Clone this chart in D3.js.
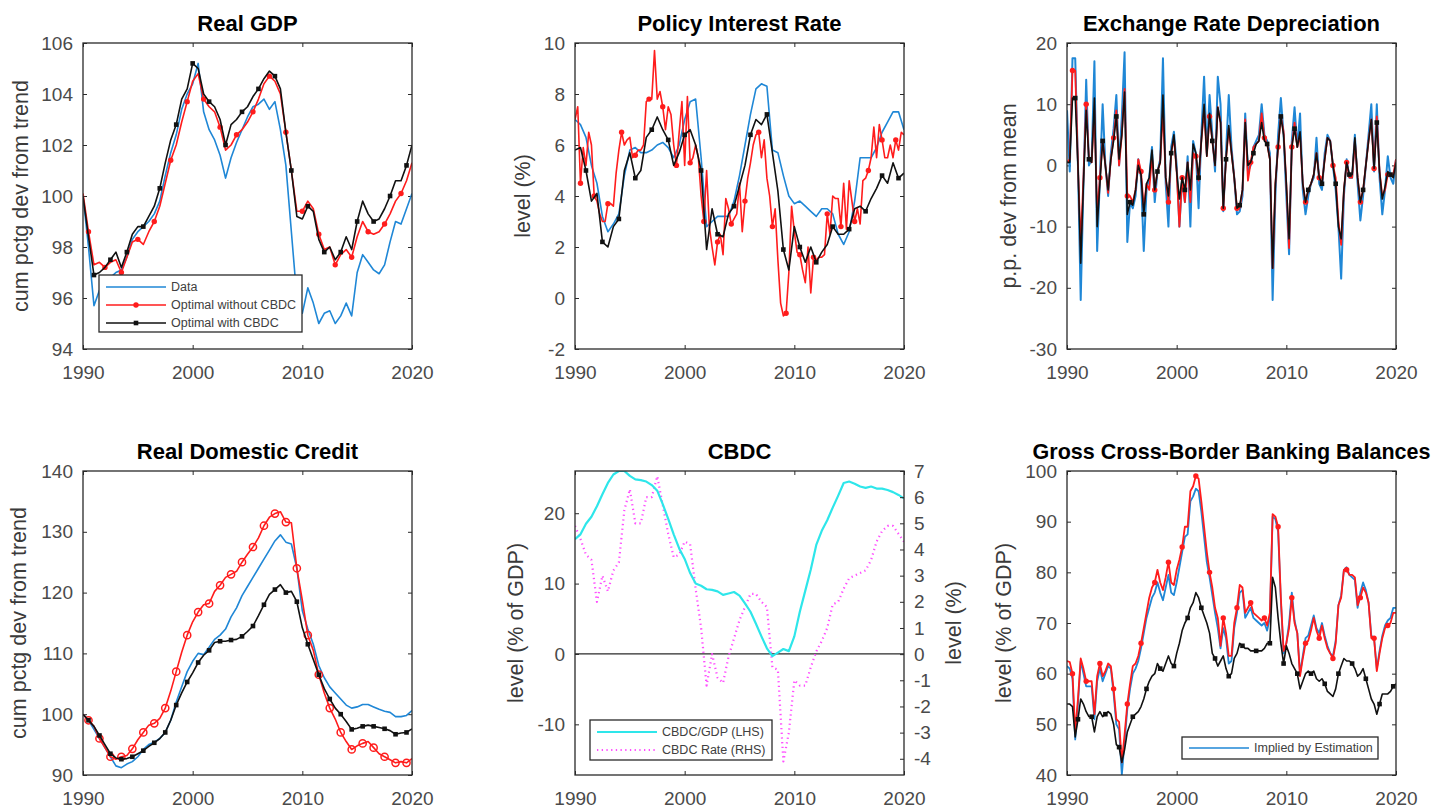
<!DOCTYPE html>
<html>
<head>
<meta charset="utf-8">
<script src="https://cdn.jsdelivr.net/npm/d3@7"></script>
<style>
  body { margin: 0; background: #fff; }
  svg { display: block; font-family: "Liberation Sans", Arial, sans-serif; }
</style>
</head>
<body>
<svg id="chart" width="1454" height="810"></svg>
<script>

// ---- time index: semi-annual (61 obs) and quarterly (121 obs), 1990 - 2020
const halfYears = d3.range(61).map(i => 1990 + i / 2);
const quarters = d3.range(121).map(i => 1990 + i / 4);
const yearTicks = [1990, 2000, 2010, 2020];

// ---- Real GDP (semi-annual)
const gdpData = [
  100.0, 98.0, 95.7, 96.3, 96.5, 96.8, 97.0, 97.1, 97.6, 98.3,
  98.6, 98.8, 99.0, 99.3, 99.8, 100.8, 101.7, 102.4, 103.4, 104.0,
  104.4, 105.2, 103.3, 102.6, 102.2, 101.6, 100.7, 101.5, 102.1, 102.6,
  103.1, 103.5, 103.6, 103.8, 103.4, 103.7, 102.6, 101.2, 98.6, 96.0,
  95.4, 96.4, 95.8, 95.0, 95.4, 95.5, 95.0, 95.3, 95.8, 95.3,
  97.0, 97.7, 97.4, 97.1, 96.95, 97.3, 98.2, 99.0, 98.9, 99.5,
  100.1
];
const gdpNoCbdc = [
  100.1, 98.6, 97.3, 97.4, 97.2, 97.4, 97.5, 97.0, 97.6, 98.2,
  98.3, 98.1, 98.6, 99.0, 99.6, 100.5, 101.4, 102.0, 102.9, 103.7,
  104.5, 104.8, 103.8, 103.5, 103.3, 102.7, 101.8, 102.0, 102.4, 102.6,
  102.9, 103.3, 103.8, 104.4, 104.7, 104.5, 104.0, 102.5, 101.0, 99.4,
  99.4, 99.8, 99.5, 98.5, 97.9, 98.0, 97.3, 97.7, 97.9, 97.6,
  98.4, 99.0, 98.6, 98.5, 98.6, 98.9, 99.3, 99.8, 100.1, 100.6,
  101.3
];
const gdpCbdc = [
  100.0, 98.4, 96.9, 97.0, 97.2, 97.5, 97.8, 97.2, 97.8, 98.5,
  98.8, 98.8, 99.2, 99.6, 100.3, 101.3, 102.2, 102.8, 103.8, 104.2,
  105.2, 105.0, 104.0, 103.7, 103.5, 103.0, 102.0, 102.8, 103.0, 103.3,
  103.5, 103.9, 104.2, 104.6, 104.9, 104.7, 104.2, 102.5, 101.0, 99.2,
  99.1, 99.6, 99.4, 98.3, 97.8, 98.0, 97.5, 97.8, 98.4, 97.9,
  99.0, 99.8, 99.3, 99.0, 99.1, 99.5, 100.0, 100.6, 100.6, 101.2,
  102.0
];

// ---- Policy interest rate (data, with-CBDC semi-annual; without-CBDC quarterly)
const rateData = [
  7.0, 6.8, 6.3, 5.2, 4.5, 3.2, 2.6, 2.9, 3.3, 4.8,
  5.8, 5.9, 5.7, 5.7, 5.8, 6.0, 6.1, 5.9, 5.5, 6.0,
  7.0, 7.7, 7.8, 5.5, 2.8, 3.0, 3.2, 3.2, 3.2, 3.8,
  4.8, 6.0, 7.2, 8.2, 8.4, 8.3, 5.8, 5.7, 4.8, 4.0,
  3.7, 3.8, 3.6, 3.4, 3.2, 3.5, 3.5, 3.3, 2.5, 2.1,
  2.6, 3.8, 5.5, 5.5, 5.5, 5.9, 6.5, 6.9, 7.3, 7.3,
  6.6
];
const rateNoCbdc = [
  7.0, 7.5, 4.5, 5.9, 5.2, 6.5, 6.0, 4.0, 3.8, 3.3, 3.0, 3.0, 3.7, 3.7, 3.6, 4.9, 5.8, 6.5, 6.0, 6.2,
  6.3, 5.5, 5.6, 5.8, 5.8, 6.0, 7.7, 7.8, 7.8, 9.7, 7.8, 8.1, 7.5, 6.6, 7.5, 7.2, 6.0, 5.2, 6.5, 7.7,
  5.2, 7.9, 5.3, 5.5, 6.0, 5.5, 4.0, 3.0, 5.0, 2.8, 2.0, 1.3, 2.2, 2.5, 1.7, 3.9, 3.5, 2.9, 3.1, 3.3,
  4.5, 2.6, 3.8, 4.7, 5.3, 6.0, 6.4, 6.5, 5.5, 6.2, 4.7, 4.0, 2.8, 3.5, 1.5, -0.2, -0.7, -0.6, 1.0, 3.6,
  2.6, 1.8, 1.7, 1.1, 0.6, 2.0, 0.2, 1.6, 1.5, 1.6, 1.6, 1.7, 3.3, 2.5, 4.0, 3.9, 3.9, 2.8, 4.5, 2.7,
  4.6, 3.8, 3.0, 3.5, 2.9, 4.6, 4.7, 5.0, 5.5, 6.7, 5.5, 6.8, 6.2, 5.5, 5.5, 6.0, 5.5, 6.2, 5.8, 6.5,
  6.4
];
const rateCbdc = [
  5.8, 5.9, 5.0, 3.8, 4.1, 2.2, 2.0, 2.8, 3.1, 5.0,
  5.7, 4.7, 5.0, 6.3, 6.6, 7.1, 6.6, 6.2, 5.2, 5.7,
  6.4, 6.6, 6.0, 5.0, 1.9, 3.5, 2.5, 2.4, 3.3, 3.6,
  4.4, 5.2, 6.4, 7.0, 6.8, 7.2, 5.7, 4.2, 1.9, 1.1,
  2.8, 2.0, 1.4, 2.0, 1.4, 1.8, 2.1, 2.8, 2.5, 2.5,
  2.7, 3.5, 3.6, 3.4, 3.9, 4.3, 4.8, 4.5, 5.3, 4.7,
  4.9
];

// ---- Exchange rate depreciation (quarterly)
const fxData = [
  9, -1, 17.5, 17.5, 0, -22, -3, 14, 0, 1, 17, -14, -2, 10, 0, -5, 2, 6, 11.5, 0,
  8, 18.5, -12.5, -6, -7, -5, 1, -2, -14, -4, -2, 3, -6, -1, 1, 17.5, -3, -10, 3, 5.5,
  0, -10, -2, -6, 1.5, -10, 4, 2, -7, 5, 14.5, 2, 11.5, 5, -1, 14.5, 10, -7.5, 2, 11.5,
  3, -2, -8, -7.5, -5, 8.5, -1, 0, 3, 4, 5, 10, 5, 4, 2, -22, -5, 5, 11, 5,
  -5, -14.5, 4, 9.5, 3, 8.5, -4, -8, -5, -3, -2, 4.5, -3, -4, 2, 5, 4, 0, -4, -10,
  -18.5, -5, 1, -2, -2, 5, -3, -9, -5, 0, 5, 10, -1, 10, -2, -8, -4, 1.5, -2, -3,
  1
];
const fxNoCbdc = [
  0.5, 1, 15.5, 15.5, 0, -13, -2, 10, 1, 0.5, 9, -8, -2, 4, 0, -4.5, 1, 4.5, 9, 0,
  5, 12.5, -5, -5, -6, -4, 1, -1, -7, -3, -4, 1.5, -4, -1, 0.5, 9, -2, -6, 2, 4.5,
  -1, -10, -2, -6, 0.5, -6, 2, 1.5, -2.5, 4, 9, 1.5, 8, 4, 0, 9.5, 7, -7, 1, 6,
  2, -2, -7, -7, -4, 7.5, -2.5, 0.5, 3, 3.5, 4, 8.5, 4.5, 3.5, 1, -16.8, -3, 3, 8, 5.5,
  -3, -13.5, 3, 7, 3, 5, -3, -6, -4, -3, -1.5, 2, -2, -3, 1, 4.5, 4, 0, -2, -9,
  -13, -4, 0.5, -2, -2, 4, -2, -6, -4, 0, 4, 7.5, -0.5, 8, -1, -5, -4, -1.5, -1.5, -1.5,
  1
];
const fxCbdc = [
  0.5, 0.5, 11, 11, 0, -16, -3, 9, 1, 0.5, 11, -10, -3, 4, 0, -4, 1, 4, 8, 1,
  5, 12, -8, -6, -6.5, -4, 0, -1.5, -8, -3, -2, 2.5, -4, -1, 0.5, 11.5, -2, -5, 2, 5,
  -1, -5.5, -2, -4, 0.5, -4, 3.5, 2, -2, 4, 10, 1.5, 8.5, 4, 0, 9.5, 7, -7, 1, 6.5,
  2, -2, -7, -6.5, -4, 7, 0, 0.5, 2, 3.5, 4, 7, 4, 3.5, 1, -16.8, -3, 3, 8, 5,
  -3, -12, 3, 6, 3, 5.5, -3, -6, -4, -3, -1.5, 2, -2, -3, 1, 4.5, 4, 0, -3, -10,
  -12, -4, 0.5, -1.5, -1.5, 4.5, -2, -6, -4, 0, 4, 7.5, -0.5, 7, -1, -5.5, -3.5, -1, -1.5, -2,
  0.5
];

// ---- Real domestic credit (semi-annual)
const creditData = [
  100, 99, 97.5, 96, 94.5, 93, 91.5, 91.2, 91.8, 92.2,
  93, 94.2, 95, 95.4, 96, 97, 99, 102, 104.5, 107,
  108.7, 110, 109.8, 111, 112.3, 113, 114, 116, 117.5, 119.5,
  121, 122.5, 124, 125.5, 127, 128.5, 129.5, 128.3, 128, 124,
  117, 114, 111.5, 108, 106, 104.5, 103.5, 102.5, 101.5, 101,
  101.2, 101.6, 101.6, 101.2, 100.8, 100.5, 100.3, 99.6, 99.6, 99.8,
  100.6
];
const creditNoCbdc = [
  100, 99, 98, 96, 94.5, 93, 92.6, 93, 93.2, 94.3,
  95.8, 97, 98.2, 98.5, 99.3, 101, 103.8, 107, 110.2, 113,
  115.2, 116.8, 118, 118.2, 120.2, 121.2, 122.5, 123, 123.5, 125,
  126.3, 127.5, 129, 131, 132.4, 133, 133.3, 131.6, 131.5, 124,
  118.7, 113, 110.5, 106.5, 103.5, 101, 99.2, 97, 95.5, 94.2,
  94.8, 95.2, 95.5, 94.5, 93.5, 93, 92.5, 92, 92.2, 92,
  92.7
];
const creditCbdc = [
  100, 99, 98, 96.5, 95, 93.5, 92.8, 92.6, 92.7, 93,
  93.5, 94, 94.7, 95.3, 96, 97, 99, 101.5, 103.5, 105.3,
  106.8, 108.5, 109.7, 110.5, 111.8, 112, 112, 112.2, 112.3, 112.8,
  113.6, 114.5, 116.2, 118, 119.7, 120.5, 121.3, 120, 120.2, 118.5,
  114.2, 111.5, 109, 106.5, 104.2, 102.5, 101, 100, 98.8, 97.5,
  97.7, 98, 98.2, 98, 97.8, 97.6, 97.3, 96.7, 96.9, 97,
  97.6
];

// ---- CBDC (semi-annual): stock in % of GDP (LHS) and CBDC rate (RHS)
const cbdcGdp = [
  16.3, 17.0, 18.5, 19.5, 21.0, 22.7, 24.3, 25.5, 26.0, 26.0,
  25.3, 24.8, 24.7, 24.5, 24.0, 23.2, 21.3, 19.2, 17.0, 15.0,
  13.5, 11.5, 10.0, 9.7, 9.2, 9.1, 8.9, 8.4, 8.6, 8.8,
  8.3, 7.2, 6.0, 4.3, 2.5, 0.8, -0.3, 0.2, 0.7, 0.4,
  2.5, 6.0, 9.0, 12.0, 15.5, 17.5, 19.0, 20.8, 22.5, 24.3,
  24.5, 24.2, 23.8, 23.6, 23.8, 23.5, 23.5, 23.3, 23.0, 22.6,
  22.1
];
const cbdcRate = [
  4.9, 4.4, 3.8, 3.6, 2.0, 3.0, 2.4, 3.2, 3.5, 5.5,
  6.3, 5.0, 5.0, 6.0, 6.0, 6.8, 5.7, 4.6, 3.7, 3.8,
  4.3, 4.2, 2.5, 1.0, -1.2, 0.0, -0.9, -1.1, -0.1, 0.6,
  1.3, 1.8, 2.3, 2.3, 2.0, 1.8, -0.5, -0.6, -4.1, -3.0,
  -1.0, -1.2, -1.2, -0.5, 0.1, 0.5, 1.0, 1.9, 2.0, 2.5,
  2.9, 3.0, 3.1, 3.2, 3.6, 4.3, 4.7, 4.9, 4.9, 4.6,
  4.3
];

// ---- Gross cross-border banking balances (quarterly)
const bankData = [
  61.5, 61, 59, 47, 54, 62.5, 60, 57.5, 57.5, 57.5, 51, 58.5, 61, 58.5, 60, 61.5, 61, 56, 50, 49,
  40, 46.5, 53, 57, 60, 61, 62.5, 65, 68, 71, 73, 75, 76, 78, 76, 74.5, 77, 79.5, 76, 75.5,
  78, 81, 84, 87, 87.5, 94, 95, 96.5, 96, 92, 87, 82, 79, 75.5, 72, 69, 65, 69, 67, 62,
  62.5, 69, 72, 76, 76.5, 71, 72, 73, 71, 70.5, 70, 69.5, 70, 68.5, 71, 91, 90.5, 88, 74.5, 64,
  66, 70, 76, 70.5, 68, 60, 63.5, 67, 67.5, 69.5, 71.5, 69, 68, 70, 67.5, 65.5, 64, 63.5, 66.5, 73.5,
  75.5, 80.5, 81, 79.5, 79, 78.5, 73, 76, 78, 76.5, 74, 67.5, 67, 61, 64.5, 67.5, 69.5, 70.5, 71, 73,
  73
];
const bankNoCbdc = [
  62.5, 62.3, 60, 48.5, 55, 63, 61, 58.5, 58.5, 58.5, 52, 59.5, 62, 59.5, 60.5, 62, 61.5, 57, 51, 50.5,
  42.5, 48, 54, 58, 61.5, 62, 63.5, 66, 69, 72, 75, 77, 78, 80.5, 78, 76.5, 79, 82, 78, 77.5,
  80.5, 82.5, 85, 89, 89, 96, 97, 99, 98.5, 94, 89, 84, 80, 77, 73, 71, 65.5, 71, 68, 63.5,
  63.5, 70, 73, 77.5, 77, 72, 73, 74, 72, 71.5, 71, 70.5, 71, 69.5, 72, 91.5, 91, 89, 75, 64.5,
  66, 69, 75, 70, 68, 59.5, 63, 66, 66.5, 68.5, 71, 68.5, 67, 69.5, 67, 65, 64, 63, 66, 73.5,
  75, 80.5, 80.5, 79.5, 79.5, 79, 73.5, 75, 77, 76, 74, 67, 67, 60.5, 64, 67, 69, 69.5, 70, 72,
  72
];
const bankCbdc = [
  54, 54, 53.5, 47.5, 51, 55, 54, 52.5, 51.5, 51.5, 48.5, 51.5, 52.5, 51.5, 52, 52.5, 52, 50, 46, 45.5,
  42.5, 45, 48.5, 50, 51.5, 52, 52.5, 53.5, 55, 57, 58.5, 59.5, 60, 62, 61, 60.5, 62, 63.5, 62, 61.5,
  64, 66, 68.5, 70, 71, 73, 74, 76, 75, 73, 71.5, 70, 68, 64, 63, 61.5, 62.5, 63.5, 61, 59.5,
  60, 63, 64, 66, 65.5, 65, 65, 64.5, 64.5, 64.5, 64.5, 64.5, 65, 66, 66, 79, 77, 71, 66, 62,
  65.5, 64, 62, 61, 60, 57, 58.5, 60, 60.5, 60, 60.5, 59, 58.5, 59, 58, 56.5, 56, 55.5, 57, 60,
  61.5, 63, 62.5, 62.5, 62, 61, 59.5, 60, 61, 59, 57, 55, 54, 52, 54, 56, 56, 56, 56.5, 57.5,
  58
];

// ---- styling
const BLUE = '#1f87d6', RED = '#ff1c1c', BLACK = '#111', CYAN = '#2ee6ea', MAGENTA = '#ff4dff';
const TICK_COL = '#4a4a4a';
const plainNum = d => String(d);   // hyphen minus, like the original

const svg = d3.select('#chart');
const defs = svg.append('defs');

const colX = [83, 575, 1067];
const rowY = [43, 471];
const plotW = 329;
const plotH = [306, 304];

function styleAxis(sel) {
  sel.select('.domain').remove();
  sel.selectAll('.tick line').attr('stroke', '#2a2a2a').attr('stroke-width', 1);
  sel.selectAll('.tick text')
    .attr('fill', TICK_COL)
    .style('font-size', '19px')
    .style('font-family', '"Liberation Sans", Arial, sans-serif');
}

function makePanel(id, col, row, title, yDomain, yTicks, yLabel, labelOff, opts = {}) {
  const left = colX[col], top = rowY[row], h = plotH[row];
  const g = svg.append('g').attr('transform', `translate(${left},${top})`);

  const x = d3.scaleLinear().domain([1990, 2020]).range([0, plotW]);
  const y = d3.scaleLinear().domain(yDomain).range([h, 0]);

  defs.append('clipPath').attr('id', 'clip-' + id)
    .append('rect').attr('width', plotW).attr('height', h);

  // bottom axis with labels, top ticks only
  g.append('g').attr('transform', `translate(0,${h})`)
    .call(d3.axisBottom(x).tickValues(yearTicks).tickFormat(plainNum)
      .tickSizeInner(-4).tickSizeOuter(0).tickPadding(17))
    .call(styleAxis);
  g.append('g')
    .call(d3.axisTop(x).tickValues(yearTicks).tickFormat('').tickSizeInner(-4).tickSizeOuter(0))
    .call(styleAxis);

  g.append('g')
    .call(d3.axisLeft(y).tickValues(yTicks).tickFormat(plainNum)
      .tickSizeInner(-4).tickSizeOuter(0).tickPadding(10))
    .call(styleAxis);

  if (!opts.noRightTicks) {
    g.append('g').attr('transform', `translate(${plotW},0)`)
      .call(d3.axisRight(y).tickValues(yTicks).tickFormat('').tickSizeInner(-4).tickSizeOuter(0))
      .call(styleAxis);
  }

  const plot = g.append('g').attr('clip-path', `url(#clip-${id})`);

  // frame drawn on top later
  const frame = () => g.append('rect')
    .attr('width', plotW).attr('height', h)
    .attr('fill', 'none').attr('stroke', '#2a2a2a').attr('stroke-width', 1.3);

  g.append('text')
    .attr('x', plotW / 2).attr('y', -20)
    .attr('text-anchor', 'middle').attr('dy', '0.35em')
    .style('font-size', opts.titleSize || '22px').style('font-weight', 'bold').attr('fill', '#000')
    .text(title);

  g.append('text')
    .attr('transform', `translate(${-labelOff},${h / 2}) rotate(-90)`)
    .attr('text-anchor', 'middle').attr('dy', '0.35em')
    .style('font-size', '21.5px').attr('fill', '#3a3a3a')
    .text(yLabel);

  return { g, plot, x, y, h, frame };
}

function drawSeries(p, times, vals, opt) {
  const ys = opt.yScale || p.y;
  const data = vals.map((v, i) => ({ t: times[i], v: v }));
  const line = d3.line().x(d => p.x(d.t)).y(d => ys(d.v));

  p.plot.append('path')
    .datum(data)
    .attr('d', line)
    .attr('fill', 'none')
    .attr('stroke', opt.color)
    .attr('stroke-width', opt.width || 1.6)
    .attr('stroke-linejoin', 'round')
    .attr('stroke-dasharray', opt.dash || null);

  if (!opt.marker) return;
  const marks = data.filter((d, i) => i % opt.step === (opt.offset || 0));
  addMarkers(p.plot, marks.map(d => [p.x(d.t), ys(d.v)]), opt.marker, opt.color);
}

function addMarkers(container, xy, type, color) {
  if (type === 'square') {
    container.selectAll(null).data(xy).enter().append('rect')
      .attr('x', d => d[0] - 2.3).attr('y', d => d[1] - 2.3)
      .attr('width', 4.6).attr('height', 4.6)
      .attr('fill', color);
  } else if (type === 'dot') {
    container.selectAll(null).data(xy).enter().append('circle')
      .attr('cx', d => d[0]).attr('cy', d => d[1]).attr('r', 2.7)
      .attr('fill', color);
  } else if (type === 'circle') {
    container.selectAll(null).data(xy).enter().append('circle')
      .attr('cx', d => d[0]).attr('cy', d => d[1]).attr('r', 3.6)
      .attr('fill', 'none').attr('stroke', color).attr('stroke-width', 1.5);
  }
}

function legendBox(p, x0, y0, w, h, entries) {
  const lg = p.g.append('g').attr('transform', `translate(${x0},${y0})`);
  lg.append('rect').attr('width', w).attr('height', h)
    .attr('fill', '#fff').attr('stroke', '#2a2a2a').attr('stroke-width', 1.3);
  entries.forEach(e => {
    const cy = e.y;
    lg.append('line')
      .attr('x1', 7).attr('x2', 67).attr('y1', cy).attr('y2', cy)
      .attr('stroke', e.color).attr('stroke-width', e.width || 1.6)
      .attr('stroke-dasharray', e.dash || null);
    if (e.marker) addMarkers(lg, [[37, cy]], e.marker, e.color);
    lg.append('text')
      .attr('x', 72).attr('y', cy).attr('dy', '0.35em')
      .style('font-size', '12.5px').attr('fill', '#404040')
      .text(e.label);
  });
}

// ---------------- Panel 1: Real GDP
const p1 = makePanel('gdp', 0, 0, 'Real GDP', [94, 106], d3.range(94, 107, 2),
  'cum pctg dev from trend', 63);
drawSeries(p1, halfYears, gdpData, { color: BLUE });
drawSeries(p1, halfYears, gdpNoCbdc, { color: RED, marker: 'dot', step: 3, offset: 1 });
drawSeries(p1, halfYears, gdpCbdc, { color: BLACK, marker: 'square', step: 3, offset: 2 });
p1.frame();
legendBox(p1, 16, 232, 203, 57, [
  { label: 'Data', color: BLUE, y: 12 },
  { label: 'Optimal without CBDC', color: RED, marker: 'dot', y: 30 },
  { label: 'Optimal with CBDC', color: BLACK, marker: 'square', y: 48 }
]);

// ---------------- Panel 2: Policy interest rate
const p2 = makePanel('rate', 1, 0, 'Policy Interest Rate', [-2, 10], d3.range(-2, 11, 2),
  'level (%)', 53);
drawSeries(p2, halfYears, rateData, { color: BLUE });
drawSeries(p2, quarters, rateNoCbdc, { color: RED, marker: 'dot', step: 5, offset: 2 });
drawSeries(p2, halfYears, rateCbdc, { color: BLACK, marker: 'square', step: 3, offset: 2 });
p2.frame();

// ---------------- Panel 3: Exchange rate depreciation
const p3 = makePanel('fx', 2, 0, 'Exchange Rate Depreciation', [-30, 20], d3.range(-30, 21, 10),
  'p.p. dev from mean', 59);
drawSeries(p3, quarters, fxData, { color: BLUE, width: 2 });
drawSeries(p3, quarters, fxNoCbdc, { color: RED, width: 1.8, marker: 'dot', step: 5, offset: 2 });
drawSeries(p3, quarters, fxCbdc, { color: BLACK, width: 1.6, marker: 'square', step: 5, offset: 3 });
p3.frame();

// ---------------- Panel 4: Real domestic credit
const p4 = makePanel('credit', 0, 1, 'Real Domestic Credit', [90, 140], d3.range(90, 141, 10),
  'cum pctg dev from trend', 65);
drawSeries(p4, halfYears, creditData, { color: BLUE });
drawSeries(p4, halfYears, creditNoCbdc, { color: RED, marker: 'circle', step: 2, offset: 1 });
drawSeries(p4, halfYears, creditCbdc, { color: BLACK, marker: 'square', step: 2, offset: 1 });
p4.frame();

// ---------------- Panel 5: CBDC (two y axes)
const p5 = makePanel('cbdc', 1, 1, 'CBDC', [-17.2, 26], [-10, 0, 10, 20],
  'level (% of GDP)', 60, { noRightTicks: true });
const yRight = d3.scaleLinear().domain([-4.62, 7]).range([p5.h, 0]);
p5.g.append('g').attr('transform', `translate(${plotW},0)`)
  .call(d3.axisRight(yRight).tickValues(d3.range(-4, 8, 1)).tickFormat(plainNum)
    .tickSizeInner(-4).tickSizeOuter(0).tickPadding(10))
  .call(styleAxis);
p5.g.append('text')
  .attr('transform', `translate(${plotW + 49},${p5.h / 2}) rotate(-90)`)
  .attr('text-anchor', 'middle').attr('dy', '0.35em')
  .style('font-size', '21.5px').attr('fill', '#3a3a3a')
  .text('level (%)');
p5.plot.append('line')
  .attr('x1', 0).attr('x2', plotW)
  .attr('y1', p5.y(0)).attr('y2', p5.y(0))
  .attr('stroke', '#2a2a2a').attr('stroke-width', 1.2);
drawSeries(p5, halfYears, cbdcRate, { color: MAGENTA, width: 2.2, dash: '1.3 3.4', yScale: yRight });
drawSeries(p5, halfYears, cbdcGdp, { color: CYAN, width: 2.2 });
p5.frame();
legendBox(p5, 15, 249, 182, 40, [
  { label: 'CBDC/GDP (LHS)', color: CYAN, width: 2.2, y: 12 },
  { label: 'CBDC Rate (RHS)', color: MAGENTA, width: 2.2, dash: '1.3 3.4', y: 30 }
]);

// ---------------- Panel 6: Gross cross-border banking balances
const p6 = makePanel('bank', 2, 1, 'Gross Cross-Border Banking Balances', [40, 100], d3.range(40, 101, 10),
  'level (% of GDP)', 64, { titleSize: '21.5px' });
drawSeries(p6, quarters, bankData, { color: BLUE, width: 1.8 });
drawSeries(p6, quarters, bankNoCbdc, { color: RED, width: 1.8, marker: 'dot', step: 5, offset: 2 });
drawSeries(p6, quarters, bankCbdc, { color: BLACK, width: 1.6, marker: 'square', step: 5, offset: 4 });
p6.frame();
legendBox(p6, 115, 266, 196, 22, [
  { label: 'Implied by Estimation', color: BLUE, y: 11 }
]);

</script>
</body>
</html>
